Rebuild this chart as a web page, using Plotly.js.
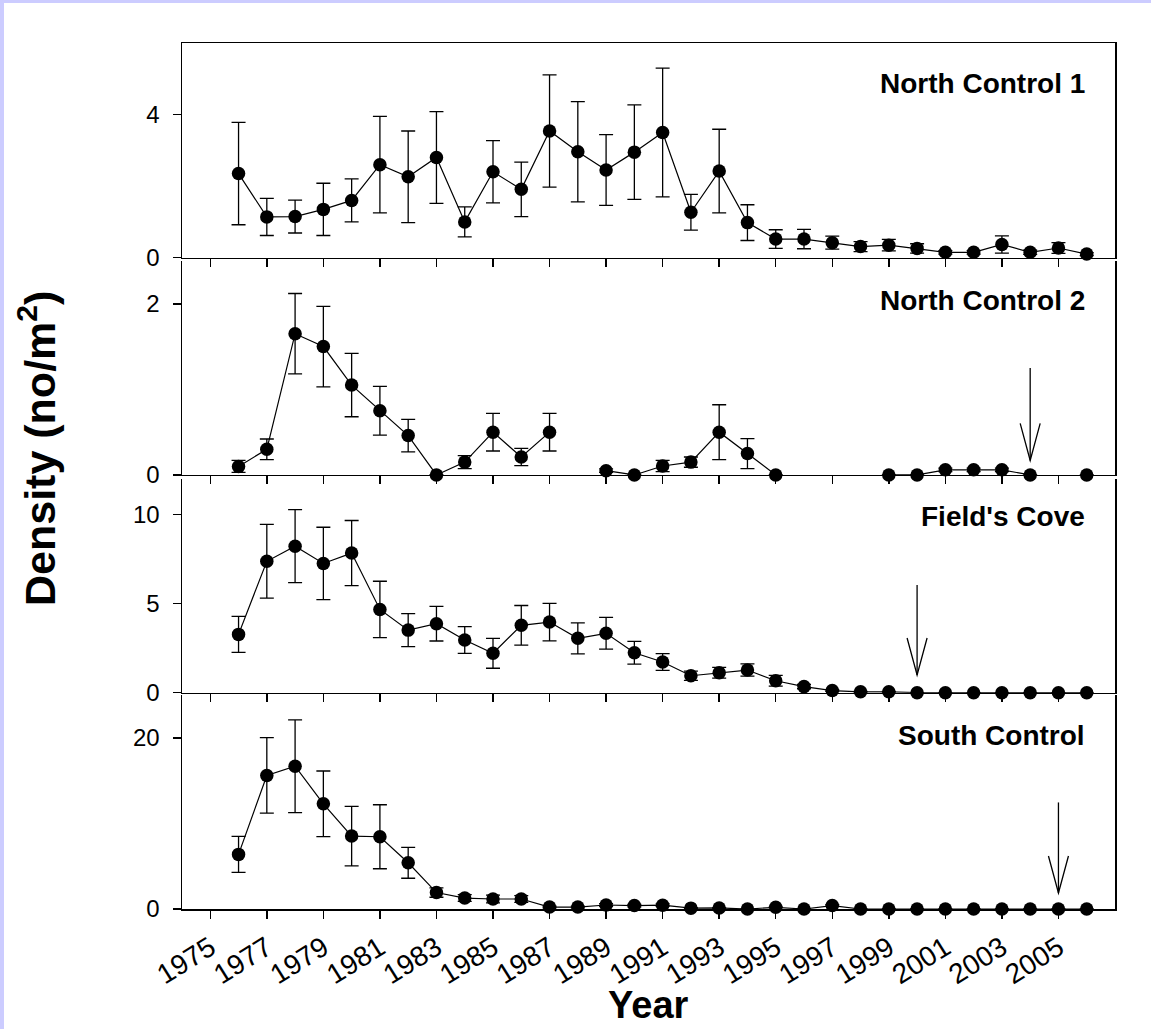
<!DOCTYPE html>
<html><head><meta charset="utf-8">
<script src="https://cdn.plot.ly/plotly-3.0.1.min.js"></script>
<style>
html,body{margin:0;padding:0;background:#ccccff;width:1151px;height:1029px;overflow:hidden;}
#chart{position:absolute;left:4px;top:3px;width:1147px;height:1026px;background:#fff;}
</style></head><body><div id="chart"></div>
<script>
const years = [1976,1977,1978,1979,1980,1981,1982,1983,1984,1985,1986,1987,1988,1989,1990,1991,1992,1993,1994,1995,1996,1997,1998,1999,2000,2001,2002,2003,2004,2005,2006];
const panelNames = ["North Control 1","North Control 2","Field's Cove","South Control"];

const nc1Mean = [2.35,1.14,1.15,1.35,1.60,2.60,2.26,2.80,1.00,2.40,1.91,3.54,2.96,2.45,2.95,3.50,1.27,2.42,0.98,0.52,0.52,0.42,0.31,0.35,0.26,0.15,0.15,0.37,0.15,0.27,0.10];
const nc1SE   = [1.43,0.52,0.46,0.73,0.60,1.35,1.28,1.28,0.42,0.87,0.76,1.57,1.40,0.99,1.32,1.80,0.50,1.17,0.50,0.26,0.27,0.18,0.14,0.16,0.13,0.05,0.05,0.24,0.06,0.15,0.04];

const nc2Mean = [0.10,0.30,1.65,1.50,1.05,0.75,0.46,0,0.15,0.50,0.21,0.50,null,0.05,0,0.105,0.15,0.50,0.25,0,null,null,null,0,0,0.06,0.06,0.06,0,null,0];
const nc2SE   = [0.07,0.12,0.47,0.47,0.37,0.285,0.19,0,0.075,0.22,0.10,0.22,null,0.02,0,0.065,0.06,0.32,0.175,0,null,null,null,0,0,0.02,0.02,0.02,0,null,0];

const fcMean = [3.27,7.37,8.22,7.25,7.83,4.67,3.51,3.87,2.95,2.21,3.78,3.96,3.05,3.33,2.24,1.72,0.95,1.12,1.27,0.67,0.34,0.12,0.05,0.05,0,0,0,0,0,0,0];
const fcSE   = [1.01,2.07,2.05,2.03,1.83,1.58,0.93,0.97,0.75,0.84,1.11,1.05,0.87,0.89,0.64,0.47,0.26,0.30,0.34,0.30,0.12,0.05,0.02,0.02,0,0,0,0,0,0,0];

const scMean = [6.38,15.6,16.68,12.29,8.52,8.44,5.40,1.92,1.28,1.17,1.17,0.23,0.23,0.47,0.40,0.45,0.10,0.12,0,0.20,0,0.40,0,0,0,0,0,0,0,0,0];
const scSE   = [2.10,4.41,5.41,3.83,3.48,3.74,1.81,0.55,0.40,0.45,0.40,0.10,0.10,0.15,0.15,0.15,0.05,0.05,0,0.05,0,0.10,0,0,0,0,0,0,0,0,0];

const yTickVals = [[0,4],[0,2],[0,5,10],[0,20]];
const xTickVals = [1975,1977,1979,1981,1983,1985,1987,1989,1991,1993,1995,1997,1999,2001,2003,2005];

// arrows (per panel, top to bottom)
const arrowYear = [null,2004,2000,2005];
const arrowTop  = [null,1.25,6.04,12.45];
const arrowTip  = [null,0.17,0.99,1.87];

const means = [nc1Mean,nc2Mean,fcMean,scMean];
const ses = [nc1SE,nc2SE,fcSE,scSE];

// layout geometry
const suffix = ['4','3','2',''];
const domains = [[0.7521,1],[0.5012,0.7483],[0.2498,0.4968],[0,0.2471]];
const yRanges = [[0,6],[0,2.5],[0,12],[0,25]];
const xRange = [1974,2007];
const plotW = 933, plotH = 866;
const labelY = [0.9538,0.7032,0.4530,0.1998];
const FONT = 'Liberation Sans, Arial, sans-serif';

const traces = [];
const layout = {
  width:1147, height:1026,
  margin:{l:178,r:36,t:40,b:120},
  paper_bgcolor:'#ffffff', plot_bgcolor:'rgba(0,0,0,0)',
  showlegend:false,
  font:{family:FONT,color:'#000'},
  shapes:[], annotations:[]
};

for(let p=0;p<4;p++){
  const s = suffix[p];
  traces.push({
    type:'scatter', mode:'lines+markers',
    x:years, y:means[p],
    xaxis:'x'+s, yaxis:'y'+s,
    connectgaps:false, cliponaxis:false,
    line:{color:'#000',width:1.2},
    marker:{color:'#000',size:13.5},
    error_y:{type:'data',array:ses[p],visible:true,color:'#000',thickness:1.3,width:7}
  });
  const xa = {
    range:xRange, tickmode:'array', tickvals:xTickVals,
    ticks:'outside', ticklen:8, tickwidth:1.5, tickcolor:'#000',
    showline:true, linewidth:1.5, linecolor:'#000',
    showgrid:false, zeroline:false,
    anchor:'y'+s, mirror: p===0 ? true : false,
    showticklabels: p===3,
    tickangle:-32,
    tickfont:{family:FONT,size:28,color:'#000'},
    ticklabelstandoff:2
  };
  if(p!==3) xa.matches='x';
  const ya = {
    domain:domains[p], range:yRanges[p],
    tickmode:'array', tickvals:yTickVals[p],
    ticks:'outside', ticklen:8, tickwidth:1.5, tickcolor:'#000',
    showline:true, linewidth:1.5, linecolor:'#000', mirror:true,
    showgrid:false, zeroline:false, anchor:'x'+s,
    tickfont:{family:FONT,size:24,color:'#000'},
    ticklabelstandoff:8
  };
  layout['xaxis'+s] = xa;
  layout['yaxis'+s] = ya;

  layout.annotations.push({
    xref:'paper', yref:'paper', x:0.970, y:labelY[p],
    xanchor:'right', yanchor:'middle', showarrow:false,
    text:'<b>'+panelNames[p]+'</b>',
    font:{family:FONT,size:28,color:'#000'}
  });

  if(arrowYear[p]!==null){
    const pxPerYear = plotW/(xRange[1]-xRange[0]);
    const pxPerUnit = plotH*(domains[p][1]-domains[p][0])/(yRanges[p][1]-yRanges[p][0]);
    const dx = 10/pxPerYear, dy = 37/pxPerUnit;
    const xa0 = arrowYear[p], t = arrowTip[p];
    layout.shapes.push({type:'line',xref:'x'+s,yref:'y'+s,x0:xa0,x1:xa0,y0:arrowTop[p],y1:t,line:{color:'#000',width:1.3}});
    layout.shapes.push({type:'path',xref:'x'+s,yref:'y'+s,
      path:'M '+(xa0-dx)+','+(t+dy)+' L '+xa0+','+t+' L '+(xa0+dx)+','+(t+dy),
      line:{color:'#000',width:1.3}});
  }
}

layout.annotations.push({
  xref:'paper', yref:'paper', x:(37-182)/plotW, y:(909-449)/plotH,
  xanchor:'center', yanchor:'middle', showarrow:false, textangle:-90,
  text:'<b>Density (no/m<sup>2</sup>)</b>',
  font:{family:FONT,size:43,color:'#000'}
});
layout.annotations.push({
  xref:'paper', yref:'paper', x:0.5, y:(909-1028)/plotH,
  xanchor:'center', yanchor:'bottom', showarrow:false,
  text:'<b>Year</b>',
  font:{family:FONT,size:38,color:'#000'}
});

Plotly.newPlot('chart', traces, layout, {displayModeBar:false, staticPlot:true});
</script></body></html>
